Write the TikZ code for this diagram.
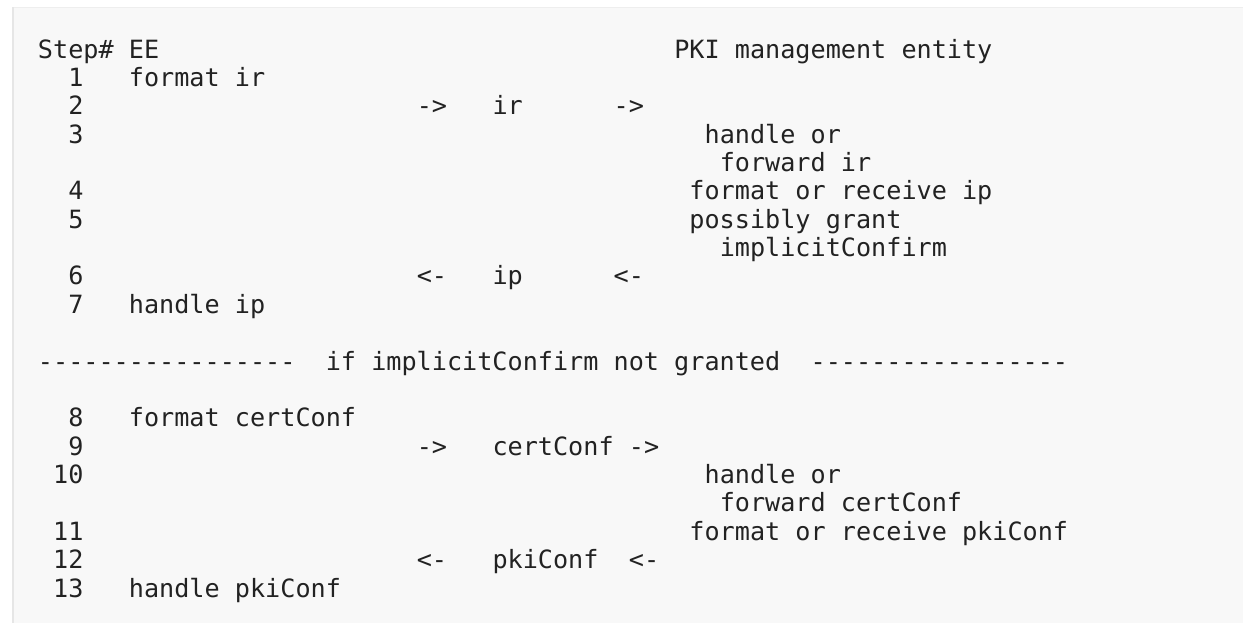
\documentclass[tikz,border=0pt]{standalone}
\usepackage{fontspec}
\setmonofont{DejaVu Sans Mono}
\definecolor{codebg}{HTML}{F8F8F8}
\definecolor{codeedge}{HTML}{E6E6E6}
\definecolor{codetop}{HTML}{EEEEEE}
\definecolor{codetext}{HTML}{222222}
\tikzset{
  txt/.style={anchor=base west, inner sep=0pt, outer sep=0pt, text=codetext,
    font=\ttfamily\fontsize{12.58pt}{15pt}\selectfont},
}
% column -> x (px), row -> baseline y (px)
\newcommand{\cx}[1]{38+#1*15.15}
\newcommand{\ry}[1]{58+#1*28.37}
\begin{document}
\begin{tikzpicture}[x=0.5pt,y=-0.5pt]
\useasboundingbox (0,0) rectangle (1243,623);
\fill[white] (0,0) rectangle (1243,623);
\fill[codebg] (12,7) rectangle (1243,623);
\draw[codetop, line width=0.5pt] (12,7.5) -- (1243,7.5);
\draw[codeedge, line width=1pt] (13,7) -- (13,623);
% row 0
\node[txt] (h1) at ({\cx{0}},{\ry{0}}) {Step\#};
\node[txt] (h2) at ({\cx{6}},{\ry{0}}) {EE};
\node[txt] (h3) at ({\cx{42}},{\ry{0}}) {PKI management entity};
% row 1
\node[txt] (n1) at ({\cx{2}},{\ry{1}}) {1};
\node[txt] (a1) at ({\cx{6}},{\ry{1}}) {format ir};
% row 2
\node[txt] (n2) at ({\cx{2}},{\ry{2}}) {2};
\node[txt] (r2a) at ({\cx{25}},{\ry{2}}) {->};
\node[txt] (r2b) at ({\cx{30}},{\ry{2}}) {ir};
\node[txt] (r2c) at ({\cx{38}},{\ry{2}}) {->};
% row 3-4
\node[txt] (n3) at ({\cx{2}},{\ry{3}}) {3};
\node[txt] (b3) at ({\cx{44}},{\ry{3}}) {handle or};
\node[txt] (b3c) at ({\cx{45}},{\ry{4}}) {forward ir};
% row 5
\node[txt] (n4) at ({\cx{2}},{\ry{5}}) {4};
\node[txt] (b4) at ({\cx{43}},{\ry{5}}) {format or receive ip};
% row 6-7
\node[txt] (n5) at ({\cx{2}},{\ry{6}}) {5};
\node[txt] (b5) at ({\cx{43}},{\ry{6}}) {possibly grant};
\node[txt] (b5c) at ({\cx{45}},{\ry{7}}) {implicitConfirm};
% row 8
\node[txt] (n6) at ({\cx{2}},{\ry{8}}) {6};
\node[txt] (r6a) at ({\cx{25}},{\ry{8}}) {<-};
\node[txt] (r6b) at ({\cx{30}},{\ry{8}}) {ip};
\node[txt] (r6c) at ({\cx{38}},{\ry{8}}) {<-};
% row 9
\node[txt] (n7) at ({\cx{2}},{\ry{9}}) {7};
\node[txt] (a7) at ({\cx{6}},{\ry{9}}) {handle ip};
% row 11 separator
\node[txt] (s1) at ({\cx{0}},{\ry{11}}) {-----------------};
\node[txt] (s2) at ({\cx{19}},{\ry{11}}) {if implicitConfirm not granted};
\node[txt] (s3) at ({\cx{51}},{\ry{11}}) {-----------------};
% row 13
\node[txt] (n8) at ({\cx{2}},{\ry{13}}) {8};
\node[txt] (a8) at ({\cx{6}},{\ry{13}}) {format certConf};
% row 14
\node[txt] (n9) at ({\cx{2}},{\ry{14}}) {9};
\node[txt] (r9a) at ({\cx{25}},{\ry{14}}) {->};
\node[txt] (r9b) at ({\cx{30}},{\ry{14}}) {certConf};
\node[txt] (r9c) at ({\cx{39}},{\ry{14}}) {->};
% row 15-16
\node[txt] (n10) at ({\cx{1}},{\ry{15}}) {10};
\node[txt] (b10) at ({\cx{44}},{\ry{15}}) {handle or};
\node[txt] (b10c) at ({\cx{45}},{\ry{16}}) {forward certConf};
% row 17
\node[txt] (n11) at ({\cx{1}},{\ry{17}}) {11};
\node[txt] (b11) at ({\cx{43}},{\ry{17}}) {format or receive pkiConf};
% row 18
\node[txt] (n12) at ({\cx{1}},{\ry{18}}) {12};
\node[txt] (r12a) at ({\cx{25}},{\ry{18}}) {<-};
\node[txt] (r12b) at ({\cx{30}},{\ry{18}}) {pkiConf};
\node[txt] (r12c) at ({\cx{39}},{\ry{18}}) {<-};
% row 19
\node[txt] (n13) at ({\cx{1}},{\ry{19}}) {13};
\node[txt] (a13) at ({\cx{6}},{\ry{19}}) {handle pkiConf};
\end{tikzpicture}
\end{document}
